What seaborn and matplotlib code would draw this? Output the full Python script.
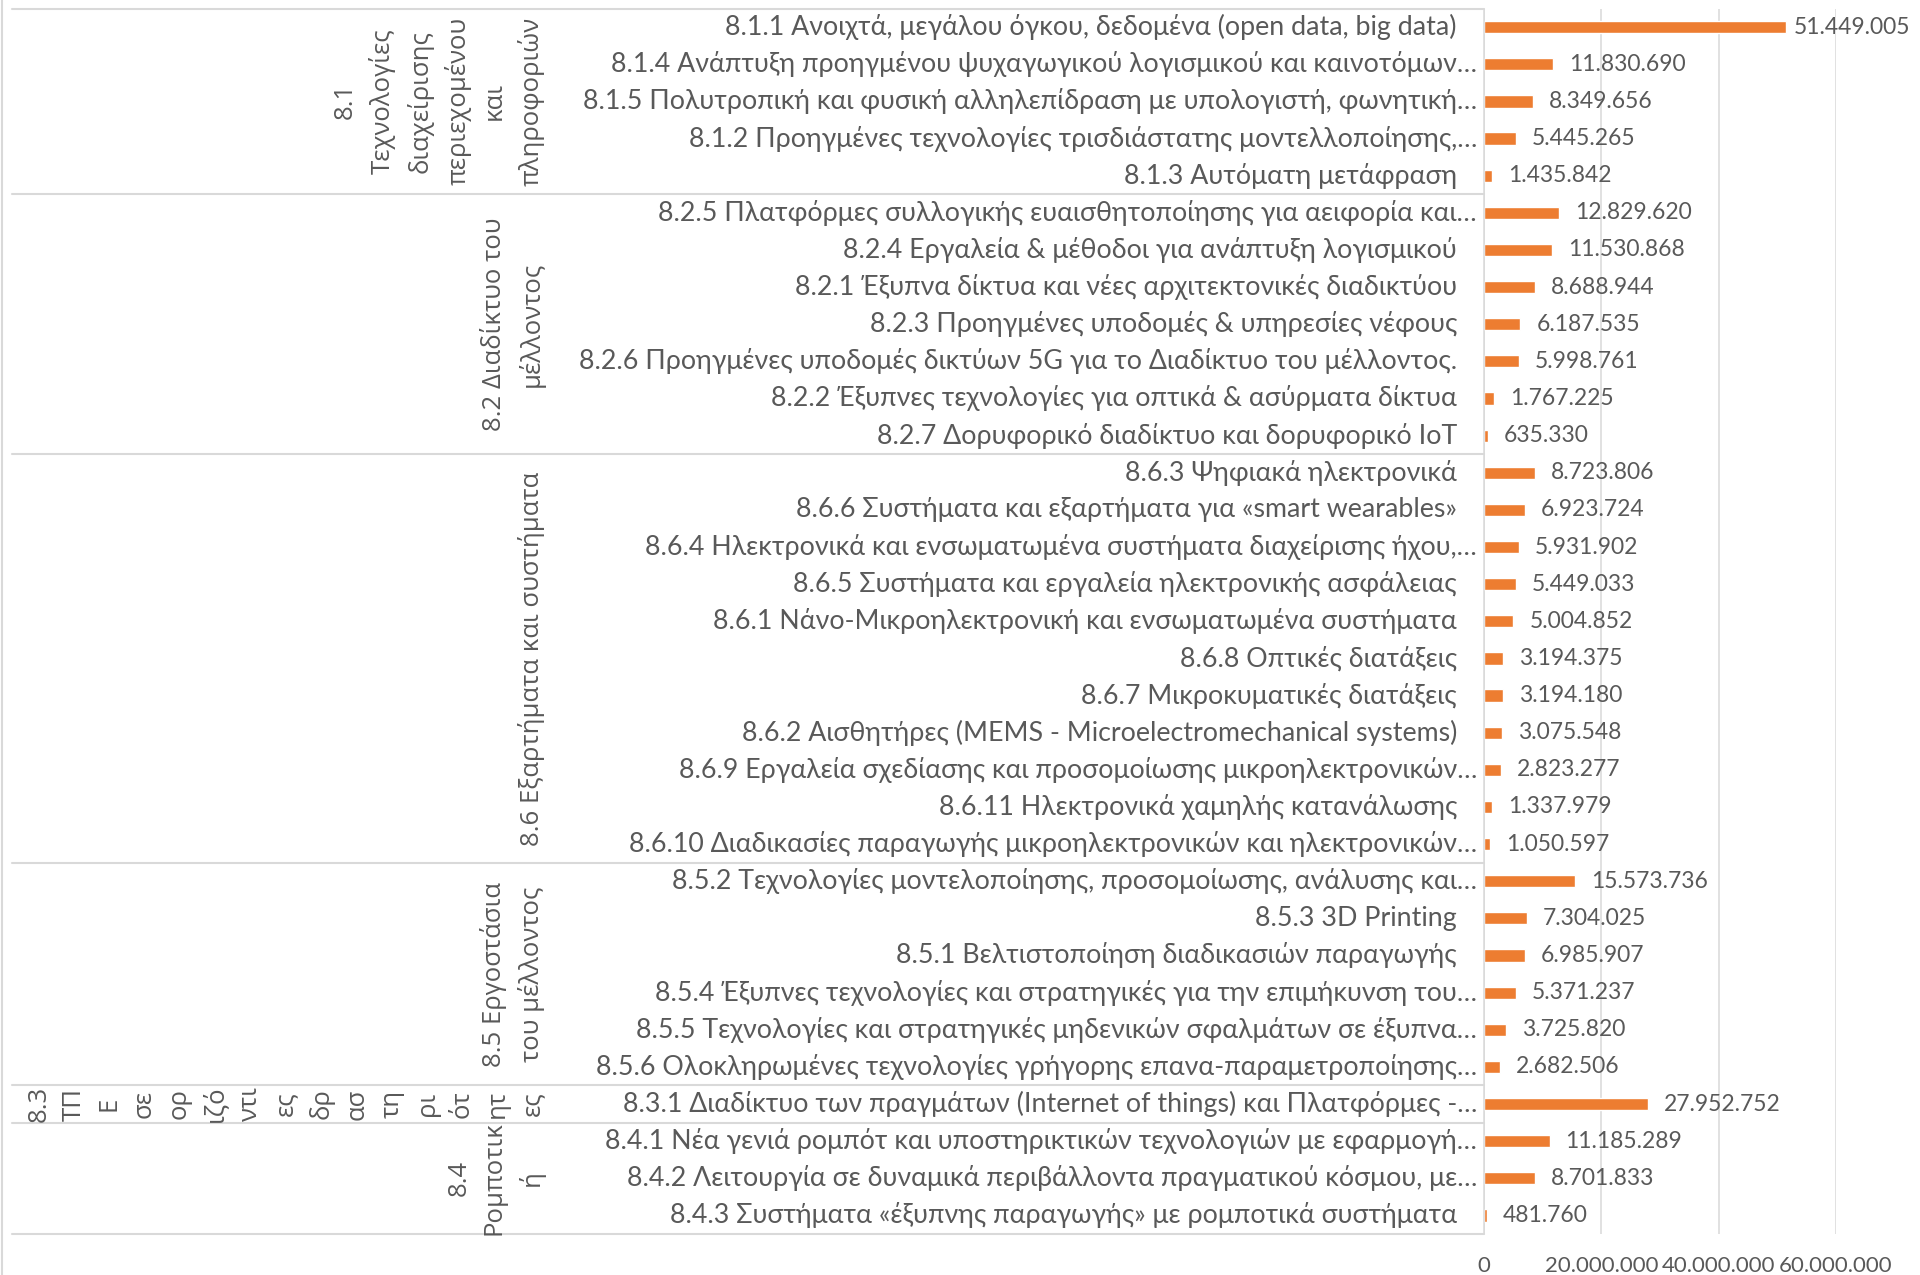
import seaborn as sns
import matplotlib.pyplot as plt
import pandas as pd
from matplotlib.transforms import blended_transform_factory
from matplotlib.ticker import FuncFormatter
from matplotlib.lines import Line2D

# --- data (group order top to bottom) ---
group_names = [
    "8.1\nΤεχνολογίες\nδιαχείρισης\nπεριεχομένου\nκαι\nπληροφοριών",
    "8.2 Διαδίκτυο του\nμέλλοντος",
    "8.6 Εξαρτήματα και συστήματα",
    "8.5 Εργοστάσια\nτου μέλλοντος",
    "8.3\nΤΠ\nΕ\nσε\nορ\nιζό\nντι\nες\nδρ\nασ\nτη\nρι\nότ\nητ\nες",
    "8.4\nΡομποτικ\nή",
]

labels_81 = [
    "8.1.1 Ανοιχτά, μεγάλου όγκου, δεδομένα (open data, big data)",
    "8.1.4 Ανάπτυξη προηγμένου ψυχαγωγικού λογισμικού και καινοτόμων…",
    "8.1.5 Πολυτροπική και φυσική αλληλεπίδραση με υπολογιστή, φωνητική…",
    "8.1.2 Προηγμένες τεχνολογίες τρισδιάστατης μοντελλοποίησης,…",
    "8.1.3 Αυτόματη μετάφραση",
]
values_81 = [51449005, 11830690, 8349656, 5445265, 1435842]

labels_82 = [
    "8.2.5 Πλατφόρμες συλλογικής ευαισθητοποίησης για αειφορία και…",
    "8.2.4 Εργαλεία & μέθοδοι για ανάπτυξη λογισμικού",
    "8.2.1 Έξυπνα δίκτυα και νέες αρχιτεκτονικές διαδικτύου",
    "8.2.3 Προηγμένες υποδομές & υπηρεσίες νέφους",
    "8.2.6 Προηγμένες υποδομές δικτύων 5G για το Διαδίκτυο του μέλλοντος.",
    "8.2.2 Έξυπνες τεχνολογίες για οπτικά & ασύρματα δίκτυα",
    "8.2.7 Δορυφορικό διαδίκτυο και δορυφορικό IoT",
]
values_82 = [12829620, 11530868, 8688944, 6187535, 5998761, 1767225, 635330]

labels_86 = [
    "8.6.3 Ψηφιακά ηλεκτρονικά",
    "8.6.6 Συστήματα και εξαρτήματα για «smart wearables»",
    "8.6.4 Ηλεκτρονικά και ενσωματωμένα συστήματα διαχείρισης ήχου,…",
    "8.6.5 Συστήματα και εργαλεία ηλεκτρονικής ασφάλειας",
    "8.6.1 Νάνο-Μικροηλεκτρονική και ενσωματωμένα συστήματα",
    "8.6.8 Οπτικές διατάξεις",
    "8.6.7 Μικροκυματικές διατάξεις",
    "8.6.2 Αισθητήρες (MEMS - Microelectromechanical systems)",
    "8.6.9 Εργαλεία σχεδίασης και προσομοίωσης μικροηλεκτρονικών…",
    "8.6.11 Ηλεκτρονικά χαμηλής κατανάλωσης",
    "8.6.10 Διαδικασίες παραγωγής μικροηλεκτρονικών και ηλεκτρονικών…",
]
values_86 = [8723806, 6923724, 5931902, 5449033, 5004852, 3194375,
             3194180, 3075548, 2823277, 1337979, 1050597]

labels_85 = [
    "8.5.2 Τεχνολογίες μοντελοποίησης, προσομοίωσης, ανάλυσης και…",
    "8.5.3 3D Printing",
    "8.5.1 Βελτιστοποίηση διαδικασιών παραγωγής",
    "8.5.4 Έξυπνες τεχνολογίες και στρατηγικές για την επιμήκυνση του…",
    "8.5.5 Τεχνολογίες και στρατηγικές μηδενικών σφαλμάτων σε έξυπνα…",
    "8.5.6 Ολοκληρωμένες τεχνολογίες γρήγορης επανα-παραμετροποίησης…",
]
values_85 = [15573736, 7304025, 6985907, 5371237, 3725820, 2682506]

labels_83 = ["8.3.1 Διαδίκτυο των πραγμάτων (Internet of things) και Πλατφόρμες -…"]
values_83 = [27952752]

labels_84 = [
    "8.4.1 Νέα γενιά ρομπότ και υποστηρικτικών τεχνολογιών με εφαρμογή…",
    "8.4.2 Λειτουργία σε δυναμικά περιβάλλοντα πραγματικού κόσμου, με…",
    "8.4.3 Συστήματα «έξυπνης παραγωγής» με ρομποτικά συστήματα",
]
values_84 = [11185289, 8701833, 481760]

x_ticks = [0, 20000000, 40000000, 60000000]

group_labels = [labels_81, labels_82, labels_86, labels_85, labels_83, labels_84]
group_values = [values_81, values_82, values_86, values_85, values_83, values_84]

rows = []
for gname, labs, vals in zip(group_names, group_labels, group_values):
    for lab, val in zip(labs, vals):
        rows.append({"group": gname, "label": lab, "value": val})
df = pd.DataFrame(rows)

# --- style ---
sns.set_style("white")
plt.rcParams["font.family"] = ["Lato", "DejaVu Sans"]
TXT = "#595959"
LINE = "#D9D9D9"
ORANGE = "#ED7D31"

fig = plt.figure(figsize=(19.2, 12.75), dpi=100)
ax = fig.add_axes([1484 / 1920, 1 - 1234 / 1275, 352 / 1920, (1234 - 8.6) / 1275])

sns.barplot(data=df, x="value", y="label", orient="h", color=ORANGE,
            saturation=1, width=0.33, errorbar=None, ax=ax)

n = len(df)
ax.set_ylim(n - 0.5, -0.5)
ax.set_xlim(0, 60000000)
ax.set_xticks(x_ticks)
ax.xaxis.set_major_formatter(FuncFormatter(lambda v, p: f"{int(v):,}".replace(",", ".")))
ax.tick_params(axis="x", length=0, pad=16, labelsize=16, labelcolor=TXT)
ax.set_yticks([])
ax.set_xlabel("")
ax.set_ylabel("")
ax.grid(axis="x", color=LINE, lw=1.1)
ax.set_axisbelow(True)
for s in ["top", "right", "bottom"]:
    ax.spines[s].set_visible(False)
ax.spines["left"].set_color(LINE)
ax.spines["left"].set_linewidth(1.1)

# category labels
for i, lab in enumerate(df["label"]):
    off = -5 if lab.endswith("…") else -19.5
    ax.annotate(lab, xy=(0, i), xycoords=("axes fraction", "data"),
                xytext=(off, 0), textcoords="offset points",
                ha="right", va="center", fontsize=19.3, color=TXT)

# value labels
vlabels = []
for i, v in enumerate(df["value"]):
    t = ax.annotate(f"{v:,}".replace(",", "."), xy=(v, i), xytext=(11.5, 0),
                    textcoords="offset points", ha="left", va="center",
                    fontsize=16.5, color=TXT, annotation_clip=False)
    vlabels.append(t)

# group separators and group labels
trans = blended_transform_factory(ax.transAxes, ax.transData)
x_left = (12 - 1484) / 352
sizes = [len(l) for l in group_labels]
edge = -0.5
ax.plot([x_left, 0], [edge, edge], transform=trans, color=LINE, lw=1.5, clip_on=False)
for gname, sz in zip(group_names, sizes):
    mid = edge + sz / 2
    edge += sz
    ax.plot([x_left, 0], [edge, edge], transform=trans, color=LINE, lw=1.5, clip_on=False)
    ax.annotate(gname, xy=(0, mid), xycoords=("axes fraction", "data"),
                xytext=(-(1484 - 545) * 0.72, 0), textcoords="offset points",
                ha="right", va="center", rotation=90, multialignment="center",
                fontsize=18.5, color=TXT, family=["Open Sans", "DejaVu Sans"],
                linespacing=1.53)

# chart border on the left edge
fig.add_artist(Line2D([2 / 1920, 2 / 1920], [0, 1], color=LINE, lw=1.5))

# keep value labels inside the figure
fig.canvas.draw()
r = fig.canvas.get_renderer()
for t in vlabels:
    bb = t.get_window_extent(r)
    if bb.x1 > 1910:
        dx, dy = t.xyann
        t.xyann = (dx - (bb.x1 - 1910) * 0.72, dy)

fig.savefig("out.png", dpi=100)
